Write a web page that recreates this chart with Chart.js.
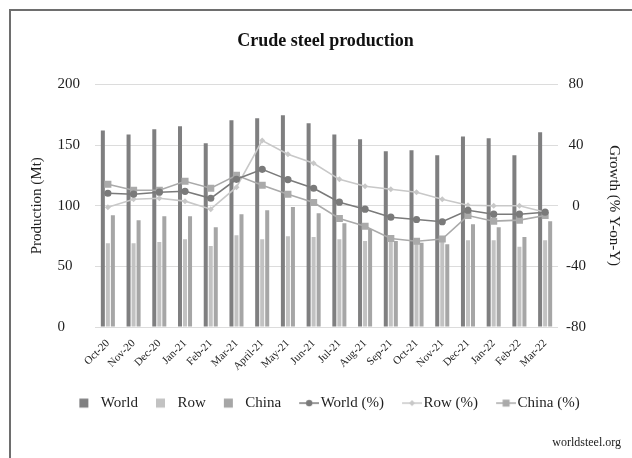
<!DOCTYPE html>
<html>
<head>
<meta charset="utf-8">
<script src="https://cdn.jsdelivr.net/npm/chart.js@4.4.0/dist/chart.umd.min.js"></script>
<style>
html, body { margin: 0; padding: 0; background: #fff; overflow: hidden; }
#wrap { position: relative; width: 632px; height: 458px; }
#wrap canvas { position: absolute; left: 0; top: 0; }
#frame { position: absolute; left: 9px; top: 9px; width: 640px; height: 470px;
         border-left: 2px solid #6e6e6e; border-top: 2px solid #6e6e6e; pointer-events: none; }
</style>
</head>
<body>
<div id="wrap">
  <canvas id="steelChart" width="632" height="458"></canvas>
  <div id="frame"></div>
</div>
<script>
// Crude steel production, Oct-20 .. Mar-22
const months = ['Oct-20', 'Nov-20', 'Dec-20', 'Jan-21', 'Feb-21', 'Mar-21', 'April-21', 'May-21', 'Jun-21',
                'Jul-21', 'Aug-21', 'Sep-21', 'Oct-21', 'Nov-21', 'Dec-21', 'Jan-22', 'Feb-22', 'Mar-22'];

// production, Mt (left axis)
const worldMt = [162, 158.8, 163, 165.4, 151.4, 170.4, 172, 174.5, 168, 158.8, 154.7, 144.9, 145.7, 141.6, 157, 155.6, 141.6, 160.5];
const rowMt   = [69, 69, 70, 72.4, 66.7, 75.7, 72.4, 74.9, 74.1, 72.4, 70.8, 74.3, 73, 73, 71.6, 71.6, 66.1, 71.6];
const chinaMt = [92.2, 88, 91.4, 91.4, 82.3, 93, 96.3, 99, 93.8, 85.6, 80.7, 70.8, 69.4, 68.3, 84.8, 82.3, 74.1, 87.2];

// growth, % y-on-y (right axis)
const worldPct = [8.2, 7.6, 8.9, 9.5, 4.9, 17.4, 24, 17.2, 11.5, 2.3, -2.3, -7.6, -9.1, -10.6, -3, -5.6, -5.6, -4.3];
const rowPct   = [-1, 4.3, 4.9, 3, -2.3, 12.2, 43, 34, 28, 17.4, 12.8, 10.9, 8.9, 4.3, 0.3, 0, 0, -4.3];
const chinaPct = [14.2, 10.2, 10.2, 16.1, 11.5, 20, 13.5, 7.5, 2.1, -8.4, -13.5, -21.6, -23.4, -22, -6.5, -10.2, -9.5, -6.5];

const leftTicks = { min: 0, max: 200, step: 50 };
const rightTicks = { min: -80, max: 80, step: 40 };

const FONT = '"Liberation Serif", "Times New Roman", serif';
const TEXT = '#1e1e1e';

const C_WORLD = '#7f7f80';
const C_ROW = '#c2c2c2';
const C_CHINA = '#a6a6a6';
const C_WORLD_LINE = '#7a7a7a';
const C_ROW_LINE = '#c8c8c8';
const C_CHINA_LINE = '#aaaaaa';

Chart.defaults.font.family = FONT;
Chart.defaults.color = TEXT;

// legend icons: square for bars, line + marker for the growth series
function legendIcon(kind, color) {
    const c = document.createElement('canvas');
    c.width = 34; c.height = 12;
    const g = c.getContext('2d');
    g.fillStyle = color;
    g.strokeStyle = color;
    if (kind === 'bar') {
        g.fillRect(14, 1.5, 9, 9);
        return c;
    }
    g.lineWidth = 1.5;
    g.beginPath(); g.moveTo(14, 6); g.lineTo(34, 6); g.stroke();
    g.beginPath();
    if (kind === 'circle') {
        g.arc(24, 6, 3.2, 0, Math.PI * 2);
    } else if (kind === 'diamond') {
        g.moveTo(24, 3); g.lineTo(27, 6); g.lineTo(24, 9); g.lineTo(21, 6); g.closePath();
    } else {
        g.rect(20.5, 2.5, 7, 7);
    }
    g.fill();
    return c;
}

const icons = [
    legendIcon('bar', C_WORLD), legendIcon('bar', C_ROW), legendIcon('bar', C_CHINA),
    legendIcon('circle', C_WORLD_LINE), legendIcon('diamond', C_ROW_LINE), legendIcon('square', C_CHINA_LINE)
];

function barSet(label, data, color) {
    return {
        type: 'bar', label: label, data: data, yAxisID: 'y', order: 1,
        backgroundColor: color, borderWidth: 0,
        categoryPercentage: 0.585, barPercentage: 0.8
    };
}

function lineSet(label, data, color, style, radius) {
    return {
        type: 'line', label: label, data: data, yAxisID: 'y1', order: 0,
        borderColor: color, backgroundColor: color, borderWidth: 1.6,
        pointStyle: style, pointRadius: radius, pointHoverRadius: radius,
        pointBorderWidth: 0, tension: 0, fill: false
    };
}

new Chart(document.getElementById('steelChart'), {
    data: {
        labels: months,
        datasets: [
            barSet('World', worldMt, C_WORLD),
            barSet('Row', rowMt, C_ROW),
            barSet('China', chinaMt, C_CHINA),
            lineSet('World (%)', worldPct, C_WORLD_LINE, 'circle', 3.6),
            lineSet('Row (%)', rowPct, C_ROW_LINE, 'rectRot', 3),
            lineSet('China (%)', chinaPct, C_CHINA_LINE, 'rect', 5)
        ]
    },
    options: {
        responsive: false,
        animation: false,
        layout: { padding: { left: 30, right: 11, top: 0, bottom: 0 } },
        plugins: {
            title: {
                display: true,
                text: 'Crude steel production',
                color: '#111',
                font: { size: 18, weight: 'bold', family: FONT },
                padding: { top: 31, bottom: 31.8 }
            },
            subtitle: {
                display: true,
                position: 'bottom',
                align: 'end',
                text: 'worldsteel.org',
                color: '#222',
                font: { size: 12, family: FONT },
                padding: { top: 15, bottom: 8 }
            },
            legend: {
                display: true,
                position: 'bottom',
                labels: {
                    usePointStyle: true,
                    pointStyleWidth: 22,
                    padding: 10,
                    color: TEXT,
                    font: { size: 15, family: FONT },
                    generateLabels: function(chart) {
                        const items = Chart.defaults.plugins.legend.labels.generateLabels(chart);
                        items.sort((a, b) => a.datasetIndex - b.datasetIndex);
                        items.forEach(it => { it.pointStyle = icons[it.datasetIndex]; });
                        return items;
                    }
                }
            },
            tooltip: { enabled: false }
        },
        scales: {
            x: {
                grid: { display: false, drawTicks: false },
                border: { display: false },
                ticks: {
                    autoSkip: false, minRotation: 45, maxRotation: 45,
                    padding: 10, color: TEXT, font: { size: 11, family: FONT }
                },
                afterFit: function(s) { s.height = 58.6; }
            },
            y: {
                position: 'left',
                min: leftTicks.min, max: leftTicks.max,
                grid: { color: '#dcdcdc', lineWidth: 1, drawTicks: false },
                border: { display: false },
                ticks: {
                    stepSize: leftTicks.step, padding: 15, crossAlign: 'near',
                    color: TEXT, font: { size: 15, family: FONT },
                    // left-align the numbers the way the original does
                    callback: v => String(v).padEnd(3, '\u2007')
                },
                title: {
                    display: true, text: 'Production (Mt)', color: TEXT,
                    font: { size: 15, family: FONT, lineHeight: 1 }, padding: 0
                },
                afterFit: function(s) { s.width = 65; }
            },
            y1: {
                position: 'right',
                min: rightTicks.min, max: rightTicks.max,
                grid: { display: false, drawTicks: false },
                border: { display: false },
                ticks: {
                    stepSize: rightTicks.step, padding: 8, crossAlign: 'center',
                    color: TEXT, font: { size: 15, family: FONT }
                },
                title: {
                    display: true, text: 'Growth (% Y-on-Y)', color: TEXT,
                    font: { size: 15, family: FONT, lineHeight: 1 }, padding: 0
                },
                afterFit: function(s) { s.width = 63; }
            }
        }
    }
});
</script>
</body>
</html>
